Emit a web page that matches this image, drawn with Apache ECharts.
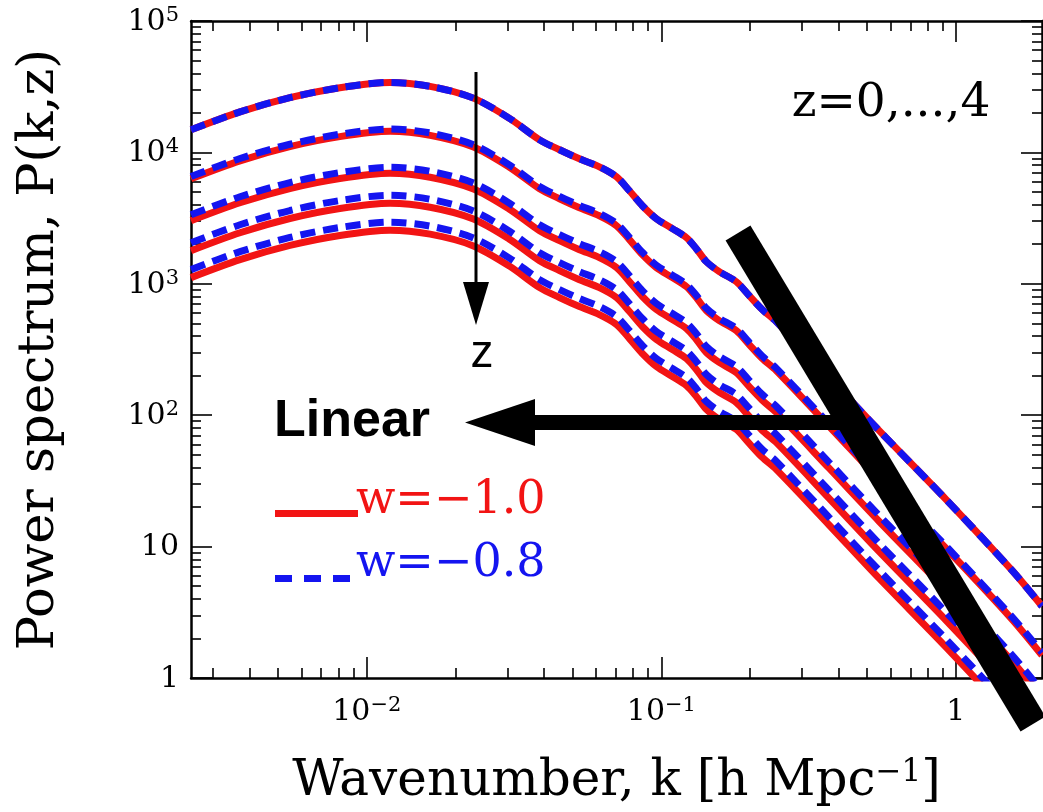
<!DOCTYPE html>
<html><head><meta charset="utf-8">
<script src="https://cdn.jsdelivr.net/npm/echarts@6/dist/echarts.min.js"></script>
<style>html,body{margin:0;padding:0;background:#fff}#c{width:1043px;height:812px}</style>
</head><body><div id="c"></div>
<script>
// Wavenumber k [h/Mpc]
const k = [0.00253, 0.00371, 0.00548, 0.0081, 0.012, 0.0164, 0.0229, 0.0305, 0.0386, 0.0451, 0.0527, 0.0616, 0.0704, 0.0779, 0.0862, 0.0962, 0.109, 0.1216, 0.1314, 0.1421, 0.1572, 0.1795, 0.1987, 0.22, 0.2454, 0.371, 0.548, 0.925, 1.548, 1.96];
// w = -1.0 (red, solid), z = 0..4
const pRed0 = [14850, 20340, 26090, 31080, 34090, 31800, 26000, 18160, 12460, 10470, 8940, 7770, 6530, 5110, 3930, 3130, 2630, 2245, 1851, 1475, 1238, 1039, 813, 637, 516, 194, 76.6, 22.9, 6.62, 3.52];
const pRed1 = [6299, 8628, 11067, 13184, 14461, 13490, 11029, 7703, 5286, 4441, 3792, 3296, 2770, 2168, 1667, 1328, 1116, 952, 785, 626, 525, 441, 345, 270, 219, 82.3, 32.5, 9.71, 2.81, 1.49];
const pRed2 = [3022, 4139, 5309, 6325, 6937, 6471, 5291, 3696, 2536, 2131, 1819, 1581, 1329, 1040, 800, 637, 535, 457, 377, 300, 252, 211, 165, 130, 105, 39.5, 15.6, 4.66, 1.35, 0.716];
const pRed3 = [1786, 2447, 3139, 3739, 4101, 3826, 3128, 2185, 1499, 1260, 1075, 935, 786, 615, 473, 377, 316, 270, 223, 177, 149, 125, 97.8, 76.6, 62.1, 23.3, 9.21, 2.75, 0.796, 0.423];
const pRed4 = [1114, 1526, 1958, 2332, 2558, 2386, 1951, 1363, 935, 786, 671, 583, 490, 383, 295, 235, 197, 168, 139, 111, 92.9, 78.0, 61.0, 47.8, 38.7, 14.6, 5.75, 1.72, 0.497, 0.264];
// w = -0.8 (blue, dashed), z = 0..4
const pBlue0 = [14850, 20340, 26090, 31080, 34090, 31800, 26000, 18160, 12460, 10470, 8940, 7770, 6530, 5110, 3930, 3130, 2630, 2245, 1851, 1475, 1238, 1039, 813, 637, 516, 194, 76.6, 22.9, 6.62, 3.52];
const pBlue1 = [6560, 8990, 11530, 13740, 15070, 14060, 11490, 8030, 5510, 4630, 3950, 3435, 2886, 2259, 1737, 1384, 1163, 992, 818, 652, 547, 459, 359, 282, 228, 85.8, 33.9, 10.1, 2.93, 1.56];
const pBlue2 = [3356, 4597, 5896, 7024, 7704, 7187, 5876, 4104, 2816, 2366, 2020, 1756, 1476, 1155, 888, 707, 594, 507, 418, 333, 280, 235, 184, 144, 117, 43.8, 17.3, 5.18, 1.50, 0.796];
const pBlue3 = [2055, 2815, 3611, 4302, 4718, 4401, 3598, 2513, 1724, 1449, 1237, 1075, 904, 707, 544, 433, 364, 311, 256, 204, 171, 144, 113, 88.2, 71.4, 26.8, 10.6, 3.17, 0.916, 0.487];
const pBlue4 = [1282, 1756, 2253, 2683, 2943, 2746, 2245, 1568, 1076, 904, 772, 671, 564, 441, 339, 270, 227, 194, 160, 127, 107, 89.7, 70.2, 55.0, 44.6, 16.7, 6.61, 1.98, 0.572, 0.304];

// axis ticks and labels
const xRange = [0.00253, 1.96];
const yRange = [1, 100000];
const xMajor = [0.01, 0.1, 1];
const xTickLabels = ['{b|10}{s|\u22122}', '{b|10}{s|\u22121}', '{b|1}'];
const yMajor = [1, 10, 100, 1000, 10000, 100000];
const yTickLabels = ['{b|1}', '{b|10}', '{b|10}{s|2}', '{b|10}{s|3}', '{b|10}{s|4}', '{b|10}{s|5}'];
const mantissas = [2, 3, 4, 5, 6, 7, 8, 9];
const xDecades = [0.001, 0.01, 0.1, 1];
const yDecades = [1, 10, 100, 1000, 10000];

const xMinor = [];
xDecades.forEach(d => mantissas.forEach(m => { const v = +(m * d).toPrecision(3); if (v >= xRange[0] && v <= xRange[1]) xMinor.push(v); }));
const yMinor = [];
yDecades.forEach(d => mantissas.forEach(m => yMinor.push(m * d)));

const SERIF = 'DejaVu Serif';
const SANS = 'Liberation Sans';
const RED = '#f21414';
const BLUE = '#1414f0';

function labelFor(majors, labels) {
  return function (v) {
    for (let i = 0; i < majors.length; i++) {
      if (Math.abs(Math.log10(v) - Math.log10(majors[i])) < 1e-6) return labels[i];
    }
    return '';
  };
}
const richLab = {
  b: { fontFamily: SERIF, fontSize: 30, color: '#000', lineHeight: 32, verticalAlign: 'bottom' },
  s: { fontFamily: SERIF, fontSize: 21, color: '#000', lineHeight: 21, verticalAlign: 'top' }
};

function xAxisDef(position, values, len, withLine, withLabel) {
  return {
    type: 'log', logBase: 10, min: xRange[0], max: xRange[1], position: position, gridIndex: 0,
    axisLine: { show: withLine, lineStyle: { color: '#000', width: 2.5 } },
    axisTick: { show: true, inside: true, length: len, customValues: values, lineStyle: { color: '#000', width: 1.6 } },
    minorTick: { show: false },
    axisLabel: withLabel ? {
      show: true, customValues: values, margin: 17, color: '#000', fontFamily: SERIF, fontSize: 30,
      formatter: labelFor(xMajor, xTickLabels), rich: richLab
    } : { show: false },
    splitLine: { show: false }
  };
}
function yAxisDef(position, values, len, withLine, withLabel) {
  return {
    type: 'log', logBase: 10, min: yRange[0], max: yRange[1], position: position, gridIndex: 0,
    axisLine: { show: withLine, lineStyle: { color: '#000', width: 2.5 } },
    axisTick: { show: true, inside: true, length: len, customValues: values, lineStyle: { color: '#000', width: 1.6 } },
    minorTick: { show: false },
    axisLabel: withLabel ? {
      show: true, customValues: values, margin: 12, color: '#000', fontFamily: SERIF, fontSize: 30,
      formatter: labelFor(yMajor, yTickLabels), rich: richLab
    } : { show: false },
    splitLine: { show: false }
  };
}

const xAxes = [
  xAxisDef('bottom', xMajor, 21, true, true),
  xAxisDef('bottom', xMinor, 10, false, false),
  xAxisDef('top', xMajor, 21, true, false),
  xAxisDef('top', xMinor, 10, false, false)
];
xAxes[0].name = 'Wavenumber, k [h Mpc{s|\u22121}]';
xAxes[0].nameLocation = 'middle';
xAxes[0].nameGap = 79;
xAxes[0].nameTextStyle = { fontFamily: SERIF, fontSize: 50, color: '#000',
  rich: { s: { fontFamily: SERIF, fontSize: 31, color: '#000', verticalAlign: 'top', lineHeight: 32 } } };

const yAxes = [
  yAxisDef('left', yMajor, 21, true, true),
  yAxisDef('left', yMinor, 10, false, false),
  yAxisDef('right', yMajor, 21, true, false),
  yAxisDef('right', yMinor, 10, false, false)
];
yAxes[0].name = 'Power spectrum, P(k,z)';
yAxes[0].nameLocation = 'middle';
yAxes[0].nameRotate = 90;
yAxes[0].nameGap = 126;
yAxes[0].nameTextStyle = { fontFamily: SERIF, fontSize: 51, color: '#000' };

const redSets = [pRed0, pRed1, pRed2, pRed3, pRed4];
const blueSets = [pBlue0, pBlue1, pBlue2, pBlue3, pBlue4];
const series = [];
redSets.forEach((d, i) => series.push({
  name: 'w=-1.0 z=' + i, type: 'line', xAxisIndex: 0, yAxisIndex: 0,
  data: k.map((x, j) => [x, d[j]]), symbol: 'none', smooth: 0.3, clip: true,
  lineStyle: { color: RED, width: 7 }, z: 3, silent: true
}));
blueSets.forEach((d, i) => series.push({
  name: 'w=-0.8 z=' + i, type: 'line', xAxisIndex: 0, yAxisIndex: 0,
  data: k.map((x, j) => [x, d[j]]), symbol: 'none', smooth: 0.3, clip: true,
  lineStyle: { color: BLUE, width: 7, type: [15, 8], cap: 'butt' }, z: 4, silent: true
}));

const chart = echarts.init(document.getElementById('c'), null, { renderer: 'canvas' });
chart.setOption({
  backgroundColor: '#fff',
  animation: false,
  grid: { left: 191, top: 21, right: 1, bottom: 133, containLabel: false },
  xAxis: xAxes,
  yAxis: yAxes,
  series: series,
  graphic: [
    // vertical z-arrow
    { type: 'line', z: 100, shape: { x1: 476, y1: 72, x2: 476, y2: 290 }, style: { stroke: '#000', lineWidth: 3 } },
    { type: 'polygon', z: 100, shape: { points: [[463, 282], [489, 282], [476, 325]] }, style: { fill: '#000' } },
    { type: 'text', z: 100, style: { text: 'z', x: 482, y: 354, fontFamily: SANS, fontSize: 46, fill: '#000', align: 'center', verticalAlign: 'middle' } },
    // horizontal "Linear" arrow
    { type: 'line', z: 100, shape: { x1: 528, y1: 422.5, x2: 852, y2: 422.5 }, style: { stroke: '#000', lineWidth: 15 } },
    { type: 'polygon', z: 100, shape: { points: [[465, 422.5], [535, 399], [535, 446]] }, style: { fill: '#000' } },
    { type: 'text', z: 100, style: { text: 'Linear', x: 274, y: 422, fontFamily: SANS, fontWeight: 'bold', fontSize: 52, fill: '#000', align: 'left', verticalAlign: 'middle' } },
    // diagonal bar
    { type: 'line', z: 100, shape: { x1: 738, y1: 233, x2: 1033, y2: 724 }, style: { stroke: '#000', lineWidth: 29, lineCap: 'butt' } },
    // z label
    { type: 'text', z: 100, style: { text: 'z=0,...,4', x: 891, y: 104, fontFamily: SERIF, fontSize: 47, fill: '#000', align: 'center', verticalAlign: 'middle' } },
    // legend
    { type: 'line', z: 100, shape: { x1: 275, y1: 513.5, x2: 358, y2: 513.5 }, style: { stroke: RED, lineWidth: 7 } },
    { type: 'text', z: 100, style: { text: 'w=\u22121.0', x: 356, y: 501, fontFamily: SERIF, fontSize: 46, fill: RED, align: 'left', verticalAlign: 'middle' } },
    { type: 'line', z: 100, shape: { x1: 275, y1: 578.5, x2: 352, y2: 578.5 }, style: { stroke: BLUE, lineWidth: 7, lineDash: [17, 12] } },
    { type: 'text', z: 100, style: { text: 'w=\u22120.8', x: 356, y: 564, fontFamily: SERIF, fontSize: 46, fill: BLUE, align: 'left', verticalAlign: 'middle' } }
  ]
});
</script>
</body></html>
